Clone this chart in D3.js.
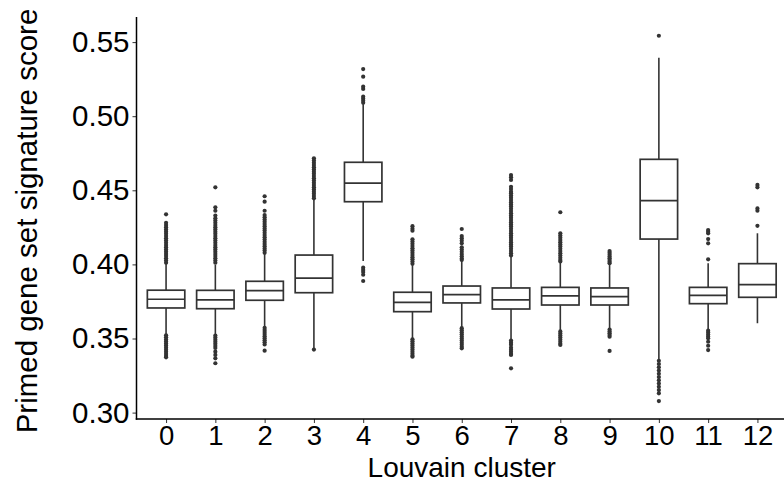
<!DOCTYPE html>
<html>
<head>
<meta charset="utf-8">
<script src="https://cdn.jsdelivr.net/npm/d3@7"></script>
<style>
  html, body { margin: 0; padding: 0; background: #ffffff; }
  svg { display: block; }
  text { font-family: "Liberation Sans", Arial, Helvetica, sans-serif; }
</style>
</head>
<body>
<svg id="chart" width="784" height="483"></svg>
<script>
// ---------- data ----------
const clusters = ["0","1","2","3","4","5","6","7","8","9","10","11","12"];
const q1          = [0.3706,0.3701,0.3758,0.3809,0.4423,0.3681,0.3740,0.3699,0.3726,0.3726,0.4171,0.3735,0.3778];
const medians     = [0.3765,0.3760,0.3823,0.3908,0.4549,0.3744,0.3796,0.3760,0.3787,0.3782,0.4430,0.3791,0.3863];
const q3          = [0.3826,0.3825,0.3886,0.4063,0.4689,0.3812,0.3854,0.3841,0.3845,0.3841,0.4709,0.3845,0.4005];
const whiskerLow  = [0.3530,0.3524,0.3576,0.3427,0.4023,0.3501,0.3576,0.3490,0.3553,0.3564,0.3355,0.3564,0.3603];
const whiskerHigh = [0.4003,0.3998,0.4072,0.4435,0.5080,0.3995,0.4025,0.4050,0.4016,0.4002,0.5395,0.4007,0.4210];
const outliersHigh = [
  [0.4338,0.4281,0.4266,0.4251,0.4236,0.4221,0.4206,0.4191,0.4176,0.4161,0.4146,0.4131,0.4116,0.4101,0.4086,0.4071,0.4056,0.4041,0.4026,0.4011],
  [0.4520,0.4385,0.4362,0.4330,0.4311,0.4296,0.4281,0.4266,0.4251,0.4236,0.4221,0.4206,0.4191,0.4176,0.4161,0.4146,0.4131,0.4116,0.4101,0.4086,0.4071,0.4056,0.4041,0.4026,0.4011],
  [0.4460,0.4423,0.4362,0.4333,0.4318,0.4303,0.4288,0.4273,0.4258,0.4243,0.4228,0.4213,0.4198,0.4183,0.4168,0.4153,0.4138,0.4123,0.4108,0.4093,0.4078],
  [0.4716,0.4701,0.4686,0.4671,0.4656,0.4641,0.4626,0.4611,0.4596,0.4581,0.4566,0.4551,0.4536,0.4521,0.4506,0.4491,0.4476,0.4461,0.4446],
  [0.5318,0.5267,0.5199,0.5184,0.5132,0.5118,0.5104,0.5090],
  [0.4258,0.4240,0.4227,0.4169,0.4154,0.4139,0.4124,0.4109,0.4094,0.4079,0.4064,0.4049,0.4034,0.4019,0.4004],
  [0.4239,0.4191,0.4176,0.4160,0.4142,0.4115,0.4100,0.4085,0.4070,0.4055,0.4040,0.4030],
  [0.4603,0.4588,0.4570,0.4524,0.4508,0.4491,0.4480,0.4465,0.4450,0.4435,0.4420,0.4405,0.4390,0.4375,0.4360,0.4345,0.4330,0.4315,0.4300,0.4285,0.4270,0.4255,0.4240,0.4225,0.4210,0.4195,0.4180,0.4165,0.4150,0.4135,0.4120,0.4105,0.4090,0.4075,0.4060],
  [0.4352,0.4210,0.4195,0.4180,0.4165,0.4150,0.4135,0.4120,0.4105,0.4090,0.4075,0.4060,0.4045,0.4030,0.4020],
  [0.4090,0.4078,0.4066,0.4054,0.4042,0.4030,0.4018,0.4008],
  [0.5543],
  [0.4232,0.4221,0.4210,0.4171,0.4142,0.4034],
  [0.4536,0.4520,0.4378,0.4362,0.4260]
];
const outliersLow = [
  [0.3522,0.3508,0.3494,0.3480,0.3466,0.3452,0.3438,0.3424,0.3410,0.3396,0.3382,0.3373],
  [0.3520,0.3506,0.3492,0.3478,0.3464,0.3450,0.3436,0.3411,0.3389,0.3366,0.3333],
  [0.3572,0.3558,0.3544,0.3530,0.3516,0.3502,0.3488,0.3474,0.3460,0.3418],
  [0.3425],
  [0.3978,0.3963,0.3948,0.3930,0.3888],
  [0.3495,0.3481,0.3467,0.3453,0.3439,0.3425,0.3411,0.3397,0.3383,0.3377],
  [0.3570,0.3556,0.3542,0.3528,0.3514,0.3500,0.3486,0.3472,0.3458,0.3444,0.3434],
  [0.3486,0.3472,0.3458,0.3438,0.3424,0.3410,0.3396,0.3389,0.3299],
  [0.3548,0.3534,0.3520,0.3506,0.3492,0.3478,0.3464,0.3456],
  [0.3560,0.3548,0.3536,0.3524,0.3512,0.3416],
  [0.3350,0.3328,0.3306,0.3284,0.3262,0.3240,0.3218,0.3196,0.3174,0.3152,0.3130,0.3078],
  [0.3553,0.3540,0.3527,0.3514,0.3501,0.3478,0.3451,0.3422],
  []
];
const yTicks = [0.30, 0.35, 0.40, 0.45, 0.50, 0.55];
const xTitle = "Louvain cluster";
const yTitle = "Primed gene set signature score";

// ---------- layout ----------
const svg = d3.select("#chart");
const panel = { left: 136.5, right: 787, top: 17, bottom: 419 };
const ink = "#333333";

const x = d3.scalePoint().domain(clusters).range([panel.left, panel.right]).padding(0.6);
const y = d3.scaleLinear().domain([0.30, 0.55]).range([412.6, 42.1]);
const boxW = x.step() * 0.76;

const rows = clusters.map((c, i) => ({
  c, q1: q1[i], med: medians[i], q3: q3[i], lo: whiskerLow[i], hi: whiskerHigh[i],
  out: outliersHigh[i].concat(outliersLow[i])
}));

const g = svg.append("g");

// whiskers
g.selectAll("line.wh-up").data(rows).join("line")
  .attr("x1", d => x(d.c)).attr("x2", d => x(d.c))
  .attr("y1", d => y(d.q3)).attr("y2", d => y(d.hi))
  .attr("stroke", ink).attr("stroke-width", 1.6);
g.selectAll("line.wh-lo").data(rows).join("line")
  .attr("x1", d => x(d.c)).attr("x2", d => x(d.c))
  .attr("y1", d => y(d.q1)).attr("y2", d => y(d.lo))
  .attr("stroke", ink).attr("stroke-width", 1.6);

// outliers
rows.forEach(d => {
  g.append("g").selectAll("circle").data(d.out).join("circle")
    .attr("cx", x(d.c)).attr("cy", v => y(v)).attr("r", 2.1)
    .attr("fill", ink);
});

// boxes
g.selectAll("rect.box").data(rows).join("rect")
  .attr("x", d => x(d.c) - boxW / 2).attr("width", boxW)
  .attr("y", d => y(d.q3)).attr("height", d => y(d.q1) - y(d.q3))
  .attr("fill", "#ffffff").attr("stroke", ink).attr("stroke-width", 1.7);
g.selectAll("line.med").data(rows).join("line")
  .attr("x1", d => x(d.c) - boxW / 2).attr("x2", d => x(d.c) + boxW / 2)
  .attr("y1", d => y(d.med)).attr("y2", d => y(d.med))
  .attr("stroke", ink).attr("stroke-width", 1.7);

// axes
const yAxis = d3.axisLeft(y).tickValues(yTicks).tickFormat(d3.format(".2f")).tickSize(4).tickSizeOuter(0).tickPadding(3);
const yg = svg.append("g").attr("transform", `translate(${panel.left},0)`).call(yAxis);
yg.select(".domain").remove();
yg.selectAll(".tick line").attr("stroke", ink);
yg.selectAll(".tick text").attr("fill", "#000").attr("font-size", 29.5)
  .attr("font-family", "'Liberation Sans', Arial, sans-serif");

const xAxis = d3.axisBottom(x).tickSize(4).tickSizeOuter(0).tickPadding(2);
const xg = svg.append("g").attr("transform", `translate(0,${panel.bottom})`).call(xAxis);
xg.select(".domain").remove();
xg.selectAll(".tick line").attr("stroke", ink);
xg.selectAll(".tick text").attr("fill", "#000").attr("font-size", 27.5)
  .attr("font-family", "'Liberation Sans', Arial, sans-serif");

// axis lines
svg.append("line").attr("x1", panel.left).attr("x2", panel.left)
  .attr("y1", panel.top).attr("y2", panel.bottom + 0.75)
  .attr("stroke", "#000").attr("stroke-width", 1.5);
svg.append("line").attr("x1", panel.left - 0.75).attr("x2", panel.right)
  .attr("y1", panel.bottom).attr("y2", panel.bottom)
  .attr("stroke", "#000").attr("stroke-width", 1.5);

// titles
svg.append("text").attr("x", (panel.left + panel.right) / 2).attr("y", 477)
  .attr("text-anchor", "middle").attr("font-size", 28).attr("fill", "#000").text(xTitle);
svg.append("text").attr("transform", `translate(37,${(panel.top + panel.bottom) / 2 + 3}) rotate(-90)`)
  .attr("text-anchor", "middle").attr("font-size", 29.5).attr("fill", "#000").text(yTitle);
</script>
</body>
</html>
